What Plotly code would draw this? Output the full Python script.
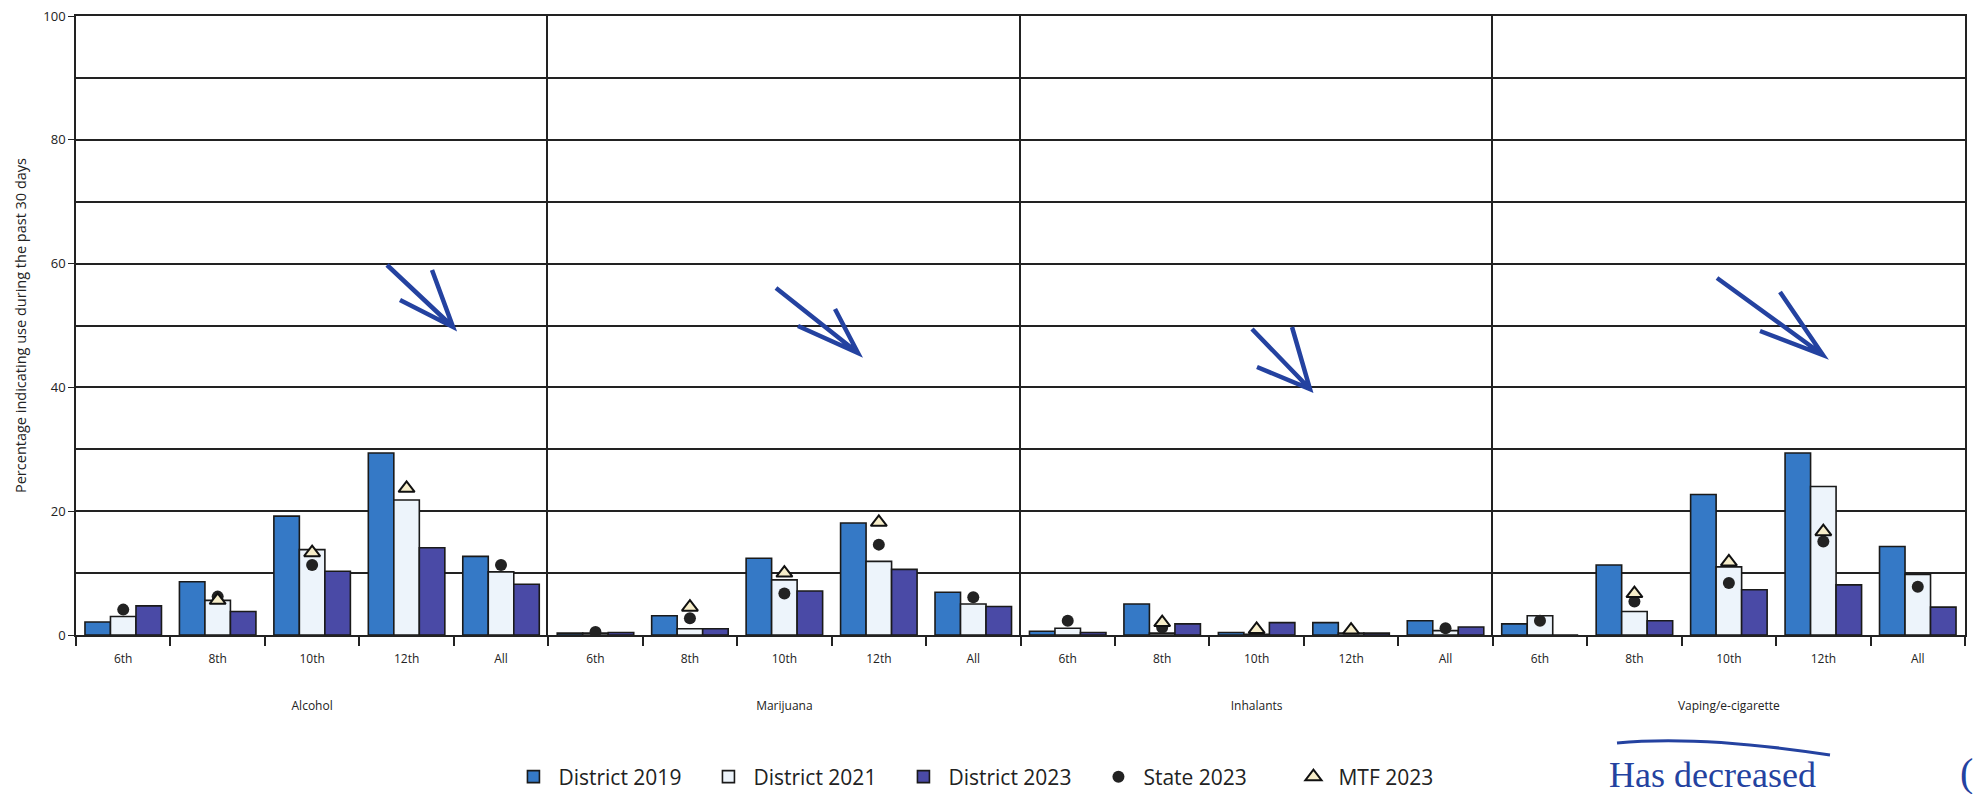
import plotly.graph_objects as go
from plotly.subplots import make_subplots

# ---------------- data ----------------
grades = ["6th", "8th", "10th", "12th", "All"]
substances = ["Alcohol", "Marijuana", "Inhalants", "Vaping/e-cigarette"]

# values ordered: Alcohol(5 grades), Marijuana, Inhalants, Vaping
district_2019 = [2.1, 8.6, 19.2, 29.4, 12.7,
                 0.3, 3.1, 12.4, 18.1, 6.9,
                 0.6, 5.0, 0.4, 2.0, 2.3,
                 1.8, 11.3, 22.7, 29.4, 14.3]
district_2021 = [3.0, 5.6, 13.8, 21.8, 10.2,
                 0.3, 1.0, 8.9, 11.9, 5.0,
                 1.1, 0.3, 0.1, 0.3, 0.7,
                 3.1, 3.8, 11.0, 24.0, 9.8]
district_2023 = [4.7, 3.8, 10.3, 14.1, 8.2,
                 0.4, 1.0, 7.1, 10.6, 4.6,
                 0.4, 1.8, 2.0, 0.3, 1.3,
                 0.0, 2.3, 7.3, 8.1, 4.5]
state_2023 = [4.1, 6.2, 11.3, None, 11.3,
              0.5, 2.7, 6.7, 14.6, 6.1,
              2.3, 1.2, None, None, 1.1,
              2.3, 5.4, 8.4, 15.1, 7.8]
mtf_2023 = [None, 5.6, 13.3, 23.7, None,
            None, 4.5, 10.0, 18.2, None,
            None, 2.0, 0.9, 0.8, None,
            None, 6.7, 11.8, 16.7, None]

y_ticks = [0, 20, 40, 60, 80, 100]

# ---------------- style ----------------
FONT = "Open Sans"
C2019 = "#3579c6"
C2021 = "#edf4fb"
C2023 = "#4a4aa6"
INK = "#2442a0"

W, H = 1979, 794
ML, MR, MT, MB = 76, 14, 16, 159
PW = W - ML - MR
PH = H - MT - MB


def px(x):
    return (x - ML) / PW


def py(y):
    return (H - MB - y) / PH


fig = make_subplots(rows=1, cols=4, shared_yaxes=True, horizontal_spacing=0)

bar_series = [("District 2019", district_2019, C2019),
              ("District 2021", district_2021, C2021),
              ("District 2023", district_2023, C2023)]

for i, sub in enumerate(substances):
    sl = slice(i * 5, i * 5 + 5)
    first = i == 0
    last = i == len(substances) - 1
    for name, vals, col in bar_series:
        fig.add_trace(go.Bar(
            x=grades, y=vals[sl], name=name, legendgroup=name, showlegend=first,
            marker=dict(color=col, line=dict(color="#1a1a1a", width=1.6)),
        ), row=1, col=i + 1)
    fig.add_trace(go.Scatter(
        x=grades, y=state_2023[sl], mode="markers", name="State 2023",
        legendgroup="State 2023", showlegend=first,
        marker=dict(symbol="circle", size=12, color="#222222",
                    line=dict(color="#222222", width=0)),
    ), row=1, col=i + 1)
    fig.add_trace(go.Scatter(
        x=grades, y=mtf_2023[sl], mode="markers", name="MTF 2023",
        legendgroup="MTF 2023", showlegend=first,
        marker=dict(symbol="triangle-up", size=14, color="#f6edc9",
                    line=dict(color="#111111", width=2)),
    ), row=1, col=i + 1)

    fig.update_xaxes(
        row=1, col=i + 1,
        type="category", range=[-0.5, 4.5], automargin=False,
        tickson="boundaries", ticks="outside", ticklen=9, tickwidth=1.5,
        tickcolor="#222", showline=True, linecolor="#222", linewidth=1.5,
        mirror=True, showgrid=False, ticklabelstandoff=12,
        tickfont=dict(family=FONT, size=12, color="#222"),
        title=dict(text=sub, standoff=35,
                   font=dict(family=FONT, size=12, color="#222")),
    )
    fig.update_yaxes(
        row=1, col=i + 1,
        range=[0, 100], tickvals=y_ticks, automargin=False,
        showline=True, linecolor="#222", linewidth=1.5, mirror=last,
        showgrid=True, gridcolor="#222", gridwidth=1.5,
        minor=dict(dtick=10, showgrid=True, gridcolor="#222", gridwidth=1.5,
                   ticks=""),
        ticks="outside" if first else "", ticklen=6, tickcolor="#222",
        tickfont=dict(family=FONT, size=13, color="#222"),
        zeroline=False,
    )

fig.update_yaxes(row=1, col=1,
                 title=dict(text="Percentage indicating use during the past 30 days",
                            standoff=13,
                            font=dict(family=FONT, size=14.5, color="#222")))

# hand-drawn arrows (annotation ink)
arrows = [
    [(387, 265), (453, 327), (400, 300), (432, 270)],
    [(776, 288), (858, 353), (798, 326), (835, 309)],
    [(1252, 329), (1310, 389), (1257, 367), (1292, 327)],
    [(1717, 278), (1823, 355), (1760, 331), (1780, 292)],
]
shapes = []
for tail, head, a, b in arrows:
    path = (f"M {px(tail[0])},{py(tail[1])} L {px(head[0])},{py(head[1])} "
            f"M {px(a[0])},{py(a[1])} L {px(head[0])},{py(head[1])} "
            f"L {px(b[0])},{py(b[1])}")
    shapes.append(dict(type="path", xref="paper", yref="paper", path=path,
                       line=dict(color=INK, width=4.5)))
# underline stroke above handwritten note
shapes.append(dict(type="path", xref="paper", yref="paper",
                   path=(f"M {px(1617)},{py(743)} Q {px(1700)},{py(735)} "
                         f"{px(1830)},{py(755)}"),
                   line=dict(color=INK, width=3)))

annotations = [
    dict(text="Has decreased", x=px(1712), y=py(775), xref="paper", yref="paper",
         showarrow=False, xanchor="center", yanchor="middle",
         font=dict(family="Liberation Serif", size=36, color=INK)),
    dict(text="(", x=px(1966), y=py(772), xref="paper", yref="paper",
         showarrow=False, xanchor="center", yanchor="middle",
         font=dict(family="Liberation Serif", size=40, color=INK)),
]

fig.update_layout(
    width=W, height=H,
    margin=dict(l=ML, r=MR, t=MT, b=MB, autoexpand=False),
    paper_bgcolor="white", plot_bgcolor="white",
    barmode="group", bargap=0.19, bargroupgap=0,
    font=dict(family=FONT, size=12, color="#222"),
    legend=dict(orientation="h", x=0.487, xanchor="center",
                y=py(777), yanchor="middle",
                font=dict(family=FONT, size=21, color="#222"),
                itemwidth=40, entrywidth=140, entrywidthmode="pixels",
                traceorder="normal"),
    shapes=shapes, annotations=annotations,
)

fig.write_html(
    "out.html",
    config={"displayModeBar": False},
    post_script="document.body.style.margin='0px';"
                "document.body.style.overflow='hidden';",
)
